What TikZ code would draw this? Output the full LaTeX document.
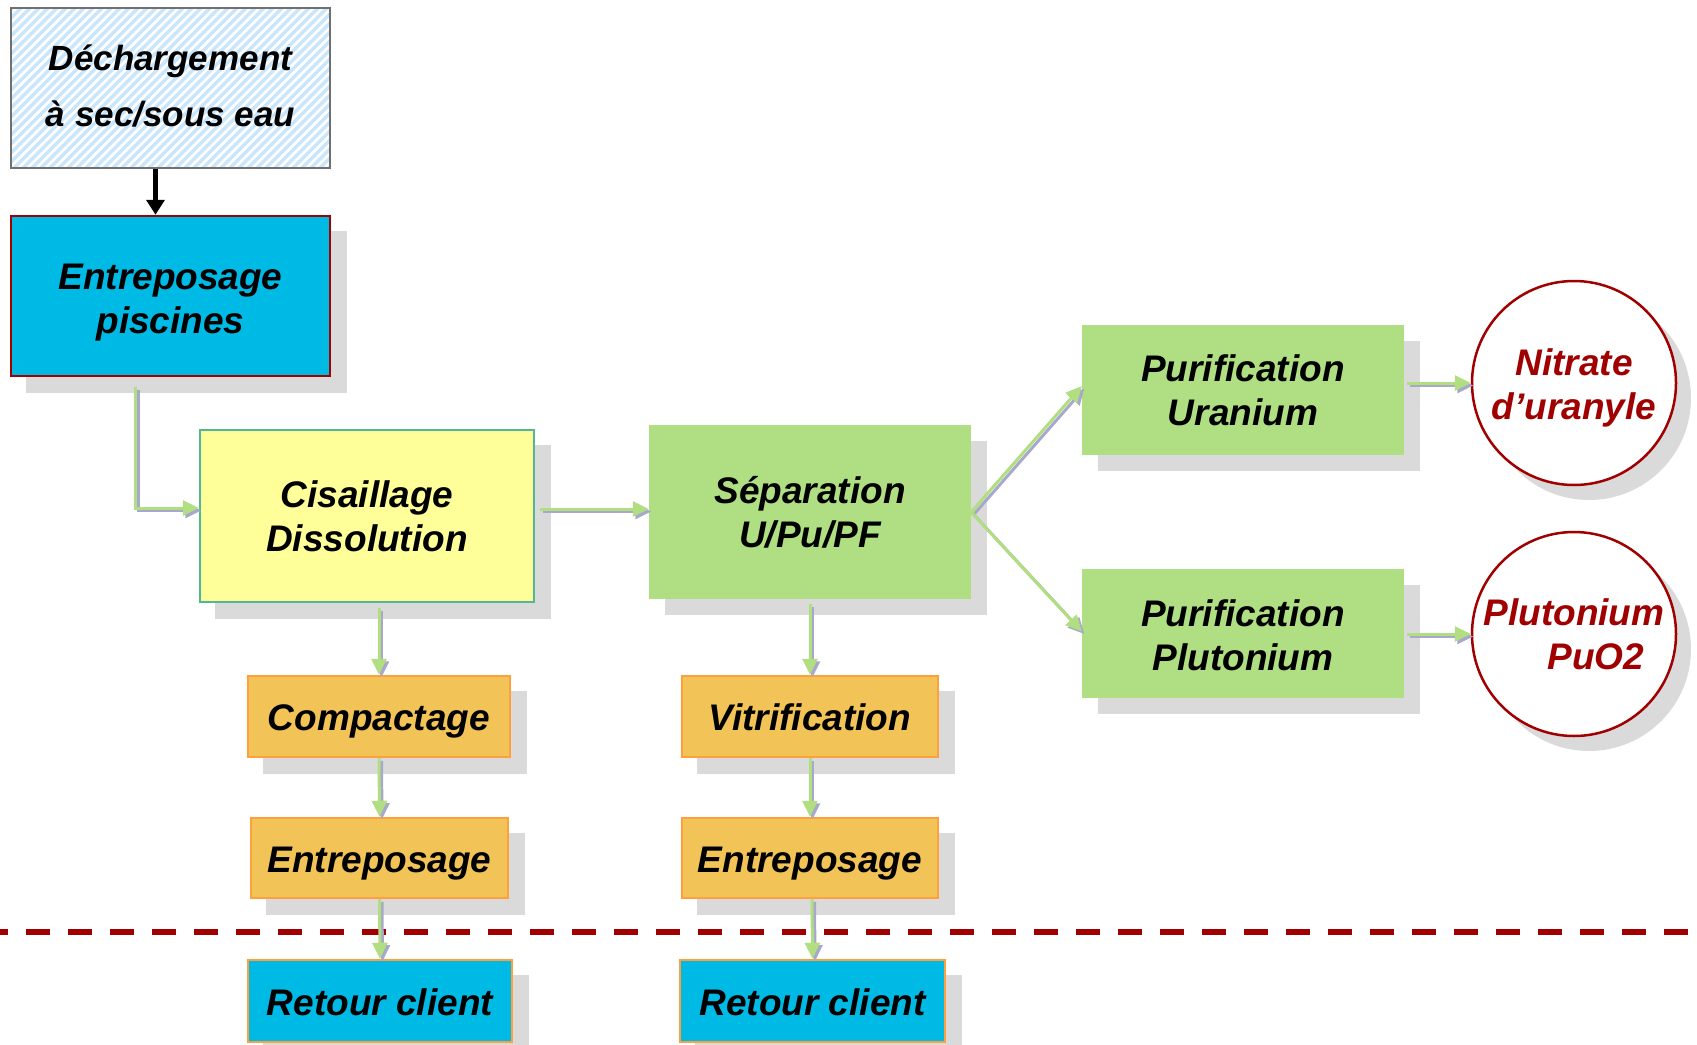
\documentclass[tikz,border=0pt]{standalone}
\usepackage{fontspec}
\setmainfont{Liberation Sans}
\usetikzlibrary{arrows.meta,calc,backgrounds}
\definecolor{cyanfill}{RGB}{0,186,230}
\definecolor{darkred}{RGB}{160,0,0}
\definecolor{yellowfill}{RGB}{255,255,153}
\definecolor{tealborder}{RGB}{80,184,150}
\definecolor{greenfill}{RGB}{176,222,130}
\definecolor{orangefill}{RGB}{242,196,88}
\definecolor{orangeborder}{RGB}{255,160,60}
\definecolor{shadowgray}{RGB}{218,218,218}
\definecolor{conngreen}{RGB}{176,222,128}
\definecolor{connpurple}{RGB}{168,168,204}
\definecolor{stripeblue}{RGB}{200,230,252}
\definecolor{dechborder}{RGB}{112,112,112}
\begin{document}
\begin{tikzpicture}[x=1pt,y=-1pt,
  box/.style={rectangle, inner sep=0pt, align=center,
    font=\fontsize{37}{44}\selectfont\bfseries\itshape},
  oneline/.style={text height=35pt, text depth=7pt},
  bluebox/.style={box, fill=cyanfill},
  greenbox/.style={box, fill=greenfill},
  orangebox/.style={box, oneline, fill=orangefill, draw=orangeborder, line width=2.5pt},
  endcircle/.style={circle, inner sep=0pt, minimum size=204pt, fill=white,
    draw=darkred, line width=2.5pt, text=darkred, align=center,
    font=\fontsize{37}{44}\selectfont\bfseries\itshape},
  conn/.style={draw=conngreen, line width=3pt, -{Triangle[length=16pt,width=15pt]}},
  connsh/.style={conn, draw=connpurple, transform canvas={shift={(2.5pt,-2.5pt)}}},
  shadowfill/.style={fill=shadowgray}
]
\useasboundingbox (0,0) rectangle (1697,1044);
\clip (0,0) rectangle (1697,1044);

% nodes
\node[box, draw=dechborder, line width=1.5pt, minimum width=319pt, minimum height=160pt,
  font=\fontsize{35}{56}\selectfont\bfseries\itshape] (dech) at (170.5,88) {Déchargement\\à sec/sous eau\rule[-4pt]{0pt}{4pt}};
\node[bluebox, draw=darkred, line width=2.5pt, minimum width=319pt, minimum height=160pt] (pisc) at (170.5,296) {\rule{0pt}{39pt}Entreposage\\piscines};
\node[box, fill=yellowfill, draw=tealborder, line width=2.5pt, minimum width=334pt, minimum height=172pt] (cis) at (367,516) {Cisaillage\\Dissolution};
\node[greenbox, minimum width=322pt, minimum height=174pt] (sep) at (810,512) {Séparation\\U/Pu/PF};
\node[greenbox, minimum width=322pt, minimum height=130pt] (pu) at (1243,390) {Purification\\Uranium};
\node[greenbox, minimum width=322pt, minimum height=129pt] (ppu) at (1243,633.5) {\rule{0pt}{31pt}Purification\\Plutonium};
\node[endcircle] (nit) at (1574,383) {\rule{0pt}{37pt}Nitrate\\d’uranyle};
\node[endcircle] (plu) at (1574,634) {Plutonium\\\hspace*{44pt}PuO2};
\node[orangebox, minimum width=262pt, minimum height=81pt] (comp) at (379,716.5) {Compactage};
\node[orangebox, minimum width=257pt, minimum height=80pt] (ent1) at (379.5,858) {Entreposage};
\node[bluebox, oneline, draw=orangeborder, line width=2.5pt, minimum width=264pt, minimum height=82pt] (ret1) at (380,1001) {Retour client};
\node[orangebox, minimum width=256pt, minimum height=81pt] (vit) at (810,716.5) {Vitrification};
\node[orangebox, minimum width=256pt, minimum height=80pt] (ent2) at (810,858) {Entreposage};
\node[bluebox, oneline, draw=orangeborder, line width=2.5pt, minimum width=265pt, minimum height=82pt] (ret2) at (812.5,1001) {Retour client};

% shadows and hatching
\begin{scope}[on background layer]
  \foreach \n in {pisc,cis,sep,pu,ppu,comp,ent1,ret1,vit,ent2,ret2}
    \fill[shadowfill] ($(\n.north west)+(16,16)$) rectangle ($(\n.south east)+(16,16)$);
  \fill[shadowfill] ($(nit.center)+(15,15)$) circle[radius=102pt];
  \fill[shadowfill] ($(plu.center)+(15,15)$) circle[radius=102pt];
  \fill[white] (dech.north west) rectangle (dech.south east);
  \begin{scope}
    \clip (dech.north west) rectangle (dech.south east);
    \foreach \i in {-200,-191,...,340}
      \draw[stripeblue, line width=3.5pt] (\i,175) -- ++(180,-180);
  \end{scope}
\end{scope}

% dashed boundary
\coordinate (dl) at (0,932);
\coordinate (dr) at (1697,932);
\draw[darkred, line width=6pt, dash pattern=on 24pt off 18pt, dash phase=16pt] (dl) -- (dr);

% connectors
\draw[black, line width=5.5pt, -{Triangle[length=15pt,width=18pt]}] ($(dech.south)+(-15,0)$) -- ($(pisc.north)+(-15,0)$);

\coordinate (p1) at ($(pisc.south west)+(126,10)$);
\draw[connsh] (p1) |- ($(cis.west)+(0,-8)$);
\draw[conn] (p1) |- ($(cis.west)+(0,-8)$);

\coordinate (p2) at ($(cis.east |- sep.west)+(5,-3)$);
\draw[connsh] (p2) -- ($(sep.west)+(0,-3)$);
\draw[conn] (p2) -- ($(sep.west)+(0,-3)$);

\draw[connsh] (sep.east) -- ($(pu.west)+(0,-4)$);
\draw[conn] (sep.east) -- ($(pu.west)+(0,-4)$);
\draw[connsh] (sep.east) -- ($(ppu.west)+(0,-2)$);
\draw[conn] (sep.east) -- ($(ppu.west)+(0,-2)$);

\coordinate (p3) at ($(pu.east |- nit.west)+(3,0)$);
\draw[connsh] (p3) -- (nit.west);
\draw[conn] (p3) -- (nit.west);
\coordinate (p4) at ($(ppu.east |- plu.west)+(3,0)$);
\draw[connsh] (p4) -- (plu.west);
\draw[conn] (p4) -- (plu.west);

\coordinate (p5) at ($(comp.north |- cis.south)+(0,5)$);
\draw[connsh] (p5) -- (comp.north);
\draw[conn] (p5) -- (comp.north);
\draw[connsh] (comp.south) -- (ent1.north);
\draw[conn] (comp.south) -- (ent1.north);
\draw[connsh] (ent1.south) -- (ret1.north);
\draw[conn] (ent1.south) -- (ret1.north);

\coordinate (p6) at ($(vit.north |- sep.south)+(0,5)$);
\draw[connsh] (p6) -- (vit.north);
\draw[conn] (p6) -- (vit.north);
\draw[connsh] (vit.south) -- (ent2.north);
\draw[conn] (vit.south) -- (ent2.north);
\draw[connsh] ($(ent2.south)+(2,0)$) -- (ret2.north);
\draw[conn] ($(ent2.south)+(2,0)$) -- (ret2.north);
\end{tikzpicture}
\end{document}
